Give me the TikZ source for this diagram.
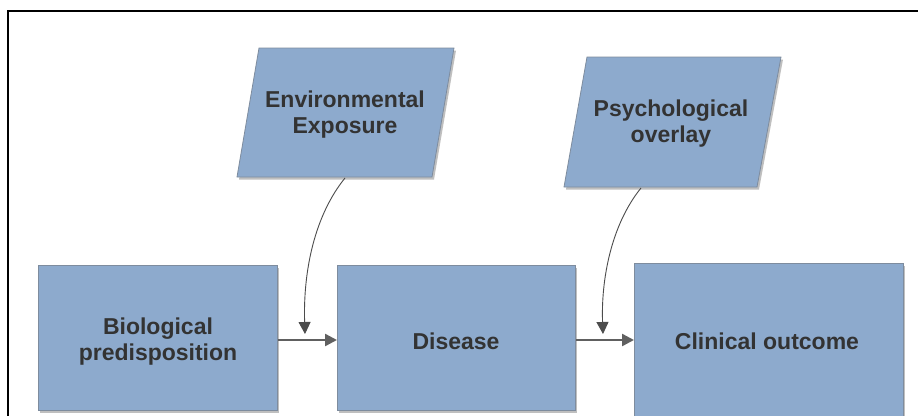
\documentclass[tikz,border=0pt]{standalone}
\usepackage{fontspec}
\setmainfont{Liberation Sans}
\usetikzlibrary{arrows.meta,shadows}
\definecolor{boxfill}{HTML}{8DAACD}
\definecolor{boxedge}{HTML}{7E8C9E}
\definecolor{txt}{HTML}{333333}
\definecolor{arr}{HTML}{606060}
\tikzset{
  blk/.style={draw=boxedge, line width=0.8pt, fill=boxfill,
    drop shadow={shadow xshift=2pt, shadow yshift=-2.5pt, fill=black!45, opacity=0.55}},
  lbl/.style={text=txt, font=\bfseries\fontsize{23}{26}\selectfont, align=center},
  flow/.style={draw=arr, line width=2.4pt, -{Triangle[length=12pt,width=12pt]}},
  infl/.style={draw=black!70, line width=0.9pt, -{Triangle[length=12pt,width=12pt]}}
}
\begin{document}
\begin{tikzpicture}[x=1pt,y=-1pt]
\useasboundingbox (0,0) rectangle (918,415);
\fill[white] (0,0) rectangle (918,415);
% outer frame
\draw[black, line width=2pt] (8,11) rectangle (930,430);
% parallelograms
\path[blk] (259,48) -- (454,48) -- (432,177) -- (237,177) -- cycle;
\path[blk] (587,57) -- (781,57) -- (757,187) -- (564,187) -- cycle;
\node[lbl] (env) at (345,115) {Environmental\\Exposure};
\node[lbl] (psy) at (671,124) {Psychological\\overlay};
\coordinate (envout) at (345,178);
\coordinate (psyout) at (641,188);
% boxes
\node[blk, minimum width=239pt, minimum height=145pt, anchor=north west] (bio) at (38,265) {};
\node[blk, minimum width=238pt, minimum height=145pt, anchor=north west] (dis) at (337,265) {};
\node[blk, minimum width=269pt, minimum height=160pt, anchor=north west] (cli) at (634,263) {};
\node[lbl] at (158,342) {Biological\\predisposition};
\node[lbl] at (456,341) {Disease};
\node[lbl] at (767,341) {Clinical outcome};
% connectors
\coordinate (a1) at (bio.east |- 0,340);
\coordinate (a2) at (dis.west |- 0,340);
\coordinate (b1) at (dis.east |- 0,340);
\coordinate (b2) at (cli.west |- 0,340);
\draw[flow] (a1) -- (a2);
\draw[flow] (b1) -- (b2);
\coordinate (envin) at (305,334);
\coordinate (psyin) at (603,334);
\draw[infl] (envout) .. controls (315,215) and (303,270) .. (envin);
\draw[infl] (psyout) .. controls (611,225) and (601,280) .. (psyin);
\end{tikzpicture}
\end{document}
